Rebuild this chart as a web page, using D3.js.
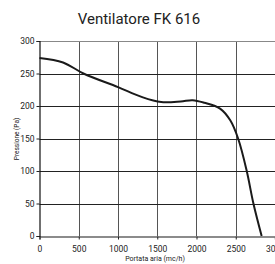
<!DOCTYPE html>
<html>
<head>
<meta charset="utf-8">
<script src="https://cdn.jsdelivr.net/npm/d3@7"></script>
<style>
  html, body { margin: 0; padding: 0; background: #fff; overflow: hidden; }
  text { font-family: "Liberation Sans Narrow", "Roboto", sans-serif; fill: #222; }
</style>
</head>
<body>
<svg id="chart" width="275" height="264"></svg>
<script>
// Values
const flowValues = [0, 300, 560, 1000, 1300, 1550, 1800, 1950, 2100, 2300, 2430, 2530, 2640, 2725, 2830];
const pressureValues = [274, 267, 250, 229, 214, 206, 207, 209, 205, 196, 178, 150, 100, 50, 0];
const xTicks = [0, 500, 1000, 1500, 2000, 2500, 3000];
const yTicks = [0, 50, 100, 150, 200, 250, 300];
const title = "Ventilatore FK 616";
const xTitle = "Portata aria (mc/h)";
const yTitle = "Pressione (Pa)";

const svg = d3.select("#chart");
const plotLeft = 39.5, plotRight = 275, plotTop = 41, plotBottom = 236;

const x = d3.scaleLinear().domain([0, 3000]).range([plotLeft, plotRight]);
const y = d3.scaleLinear().domain([0, 300]).range([plotBottom, plotTop]);

// grid
const grid = svg.append("g");
grid.selectAll("line.v").data(xTicks.slice(1)).join("line")
    .attr("x1", d => Math.round(x(d)) + 0.5).attr("x2", d => Math.round(x(d)) + 0.5)
    .attr("y1", plotTop).attr("y2", plotBottom)
    .attr("stroke", "#555").attr("stroke-width", 1);
grid.selectAll("line.h").data(yTicks.slice(1)).join("line")
    .attr("x1", plotLeft).attr("x2", plotRight)
    .attr("y1", d => Math.round(y(d)) + 0.5).attr("y2", d => Math.round(y(d)) + 0.5)
    .attr("stroke", d => d === 300 ? "#888" : "#222").attr("stroke-width", 1);

// axes
const xAxis = svg.append("g")
    .attr("transform", `translate(0,${plotBottom + 0.5})`)
    .call(d3.axisBottom(x).tickValues(xTicks).tickSize(3).tickPadding(6).tickFormat(d3.format("d")));
xAxis.select(".domain").attr("stroke", "#666").attr("stroke-width", 1.5);
xAxis.selectAll(".tick line").attr("stroke", "#222");
xAxis.selectAll("text").style("font-size", "8.5px").attr("fill", "#222");

const yAxis = svg.append("g")
    .attr("transform", `translate(${plotLeft},0)`)
    .call(d3.axisLeft(y).tickValues(yTicks).tickSize(3).tickPadding(2).tickFormat(d3.format("d")));
yAxis.select(".domain").attr("stroke", "#111").attr("stroke-width", 1.2);
yAxis.selectAll(".tick line").attr("stroke", "#222");
yAxis.selectAll("text").style("font-size", "8.5px").attr("fill", "#222");

// curve
const line = d3.line()
    .x((d, i) => x(flowValues[i]))
    .y(d => y(d))
    .curve(d3.curveCatmullRom.alpha(0.5));
svg.append("path")
    .datum(pressureValues)
    .attr("d", line)
    .attr("fill", "none")
    .attr("stroke", "#1a1a1a")
    .attr("stroke-width", 2);

// titles
svg.append("text").attr("x", 139).attr("y", 24).attr("text-anchor", "middle")
    .style("font-size", "15px").text(title);
svg.append("text").attr("x", 155).attr("y", 261).attr("text-anchor", "middle")
    .style("font-size", "7px").text(xTitle);
svg.append("text").attr("transform", "translate(19,139) rotate(-90)").attr("text-anchor", "middle")
    .style("font-size", "6.5px").text(yTitle);
</script>
</body>
</html>
